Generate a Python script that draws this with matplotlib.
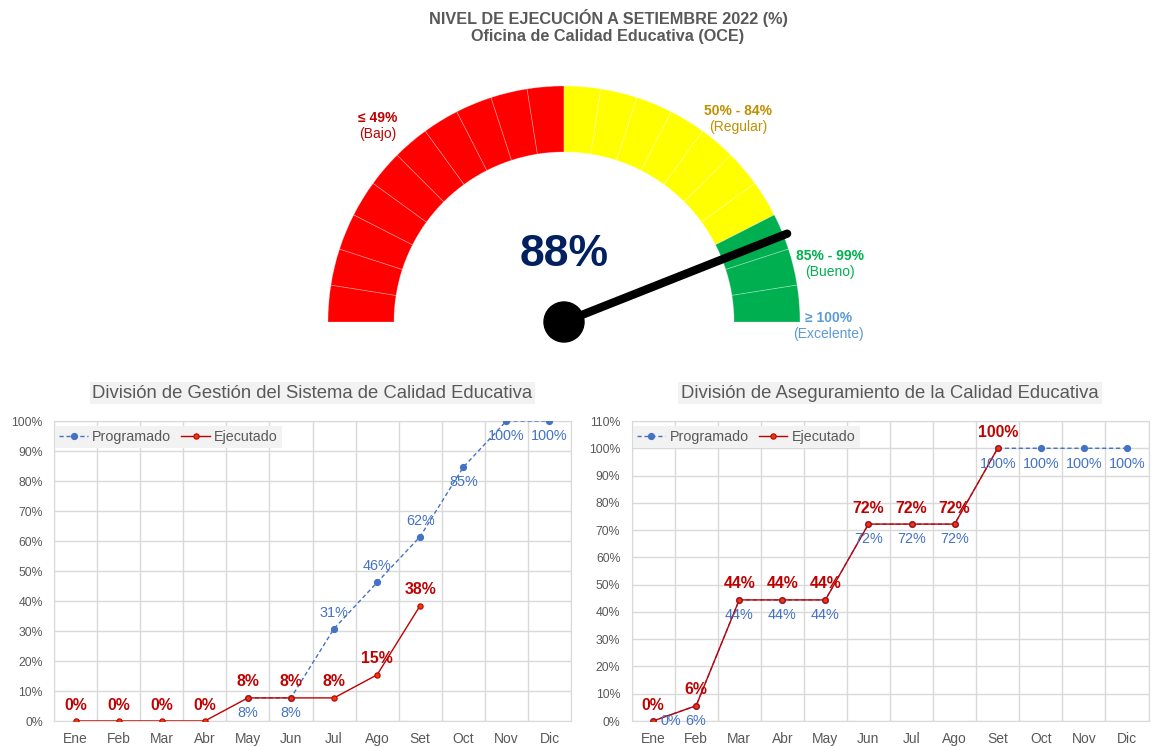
import numpy as np
import matplotlib
matplotlib.use('Agg')
import matplotlib.pyplot as plt
from matplotlib.patches import Wedge, Circle
from matplotlib.ticker import FixedLocator, FuncFormatter

plt.rcParams['font.family'] = ['Liberation Sans', 'DejaVu Sans']

# ---- datos del velocimetro ----
avance = 88
tramos_lim = [0, 50, 85, 100]
tramos_col = ['#FF0000', '#FFFF00', '#00B050']
tramos_txt = ['≤ 49%', '50% - 84%', '85% - 99%', '≥ 100%']
tramos_sub = ['(Bajo)', '(Regular)', '(Bueno)', '(Excelente)']
tramos_txtcol = ['#C00000', '#BF9000', '#00B050', '#5B9BD5']

# ---- datos mensuales ----
meses = ['Ene', 'Feb', 'Mar', 'Abr', 'May', 'Jun', 'Jul', 'Ago', 'Set', 'Oct', 'Nov', 'Dic']
prog_gestion = [np.nan, np.nan, np.nan, np.nan, 7.7, 7.7, 30.8, 46.2, 61.5, 84.6, 100, 100]
ejec_gestion = [0, 0, 0, 0, 7.7, 7.7, 7.7, 15.4, 38.5]
prog_aseg = [0, 5.6, 44.4, 44.4, 44.4, 72.2, 72.2, 72.2, 100, 100, 100, 100]
ejec_aseg = [0, 5.6, 44.4, 44.4, 44.4, 72.2, 72.2, 72.2, 100]

# posicion de etiquetas de Programado (estilo)
pos_gestion = ['below'] * 6 + ['above'] * 3 + ['below'] * 3
pos_aseg = ['right'] + ['below'] * 11

gris = '#595959'
azul = '#4472C4'
rojo = '#C00000'
grid_col = '#D9D9D9'

W, H = 1152, 746
fig = plt.figure(figsize=(W / 100, H / 100), dpi=100)

fig.text(608 / W, 1 - 18 / H, 'NIVEL DE EJECUCIÓN A SETIEMBRE 2022 (%)', ha='center', va='center',
         fontsize=11.7, fontweight='bold', color=gris)
fig.text(608 / W, 1 - 37 / H, 'Oficina de Calidad Educativa (OCE)', ha='center', va='center',
         fontsize=11.7, fontweight='bold', color=gris)

# ---- velocimetro ----
cx, cy, R = 564, 322, 236
gx0, gx1, gy0, gy1 = 228, 900, 60, 360
axg = fig.add_axes([gx0 / W, 1 - gy1 / H, (gx1 - gx0) / W, (gy1 - gy0) / H])
axg.set_xlim((gx0 - cx) / R, (gx1 - cx) / R)
axg.set_ylim((cy - gy1) / R, (cy - gy0) / R)
axg.axis('off')

r_in = 170 / R
for i, col in enumerate(tramos_col):
    for p in range(tramos_lim[i], tramos_lim[i + 1], 5):
        t1 = 180 - (p + 5) * 1.8
        t2 = 180 - p * 1.8
        axg.add_patch(Wedge((0, 0), 1, t1, t2, width=1 - r_in, facecolor=col,
                            edgecolor=(1, 1, 1, 0.3), lw=0.6))

lbl_xy = [(-0.788, 0.864), (0.737, 0.894), (1.127, 0.280), (1.119, 0.017)]
for (lx, ly), t, s, c in zip(lbl_xy, tramos_txt, tramos_sub, tramos_txtcol):
    axg.text(lx, ly, t, ha='center', va='center', fontsize=10, fontweight='bold', color=c)
    axg.text(lx, ly - 0.068, s, ha='center', va='center', fontsize=10, color=c)

ang = np.radians(180 - avance * 1.8)
L = 240 / R
axg.plot([0, L * np.cos(ang)], [0, L * np.sin(ang)], color='black', lw=6, solid_capstyle='round', zorder=5)
axg.add_patch(Circle((0, 0), 20 / R, color='black', zorder=6))
axg.text(0, (cy - 255) / R, f'{avance}%', ha='center', va='center', fontsize=32,
         fontweight='bold', color='#002060')


# ---- graficos de linea ----
offs = {'above': (0, 11.5), 'below': (0, -11), 'right': (12.5, 0)}


def panel(rect, titulo, prog, ejec, ymax, pos_prog):
    ax = fig.add_axes(rect)
    x = np.arange(len(meses))
    ax.plot(x, prog, color=azul, lw=1, ls=(0, (3, 2)), marker='o', ms=4.2,
            label='Programado', zorder=3)
    xe = np.arange(len(ejec))
    ax.plot(xe, ejec, color=rojo, lw=1, marker='o', ms=3.8, mfc='#E83A0C', mec=rojo,
            mew=0.8, label='Ejecutado', zorder=4)

    for i, v in enumerate(prog):
        if np.isnan(v):
            continue
        ax.annotate(f'{round(v)}%', (i, v), textcoords='offset points', xytext=offs[pos_prog[i]],
                    ha='center', va='center', fontsize=10.4, color=azul, zorder=5)
    for i, v in enumerate(ejec):
        ax.annotate(f'{round(v)}%', (i, v), textcoords='offset points', xytext=offs['above'],
                    ha='center', va='center', fontsize=11.4, fontweight='bold', color=rojo, zorder=6)

    ax.set_xlim(-0.5, len(meses) - 0.5)
    ax.set_ylim(0, ymax)
    ax.set_xticks(x)
    ax.set_xticklabels(meses)
    ax.xaxis.set_minor_locator(FixedLocator(np.arange(-0.5, len(meses), 1)))
    ax.set_yticks(np.arange(0, ymax + 1, 10))
    ax.yaxis.set_major_formatter(FuncFormatter(lambda v, p: f'{v:.0f}%'))
    ax.grid(axis='y', which='major', color=grid_col, lw=1)
    ax.grid(axis='x', which='minor', color=grid_col, lw=1)
    ax.tick_params(axis='both', which='both', length=0)
    ax.tick_params(axis='x', labelsize=10, colors=gris, pad=8)
    ax.tick_params(axis='y', labelsize=8.8, colors=gris, pad=8)
    for s in ax.spines.values():
        s.set_color(grid_col)
    ax.set_axisbelow(True)

    ax.text(0.5, 1.093, titulo, transform=ax.transAxes, ha='center', va='center',
            fontsize=13.3, color=gris,
            bbox=dict(facecolor='#F2F2F2', edgecolor='none', boxstyle='square,pad=0.15'))
    leg = ax.legend(loc='upper left', bbox_to_anchor=(0.002, 0.984), ncol=2, fontsize=10.3,
                    frameon=True, fancybox=False, facecolor='#F2F2F2', edgecolor='none',
                    framealpha=1, handlelength=2.0, handletextpad=0.3, columnspacing=0.7,
                    borderpad=0.3, borderaxespad=0)
    for t in leg.get_texts():
        t.set_color(gris)
    return ax


panel([54 / W, 1 - 721 / H, 517 / W, 300 / H], 'División de Gestión del Sistema de Calidad Educativa',
      prog_gestion, ejec_gestion, 100, pos_gestion)
panel([631.5 / W, 1 - 721 / H, 517 / W, 300 / H], 'División de Aseguramiento de la Calidad Educativa',
      prog_aseg, ejec_aseg, 110, pos_aseg)

fig.savefig('out.png', dpi=100, facecolor='white')
